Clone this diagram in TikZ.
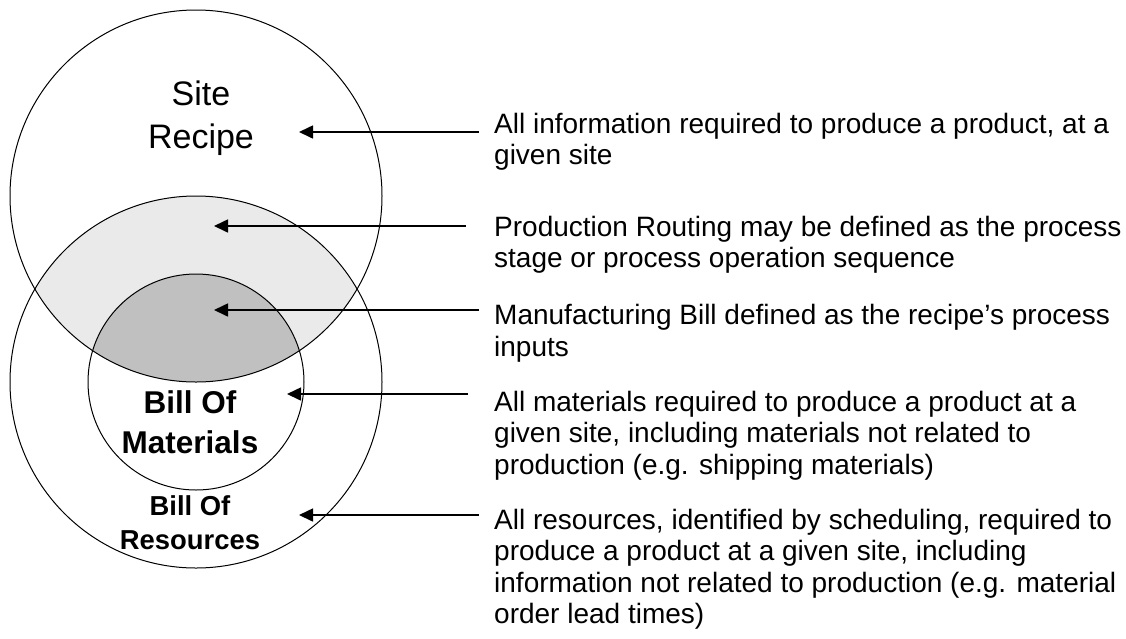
\documentclass[tikz,border=0pt]{standalone}
\usepackage{fontspec}
\setmainfont{Liberation Sans}
\usetikzlibrary{arrows.meta}
\definecolor{lensgray}{HTML}{EAEAEA}
\definecolor{coregray}{HTML}{C0C0C0}
\begin{document}
\begin{tikzpicture}[x=1pt,y=-1pt,
  outline/.style={draw=black,line width=1pt},
  pointer/.style={draw=black,line width=1.6pt,-{Triangle[length=14pt,width=13pt]}},
  desc/.style={anchor=base west,align=left,inner sep=0pt,font=\fontsize{28}{31.5}\selectfont},
  ]
\useasboundingbox[fill=white] (0,0) rectangle (1126,638);
% fills
\begin{scope}
  \clip (196,196) circle[radius=186];
  \fill[lensgray] (196,382) circle[radius=186];
  \fill[coregray] (196,382) circle[radius=108];
\end{scope}
% outlines
\draw[outline] (196,196) circle[radius=186];
\draw[outline] (196,382) circle[radius=186];
\draw[outline] (196,382) circle[radius=108];
% circle labels (anchor = baseline of last line)
\node (site) [anchor=base,align=center,inner sep=0pt,font=\fontsize{34}{43}\selectfont] at (201,148) {Site\\Recipe};
\node (bom) [anchor=base,align=center,inner sep=0pt,font=\fontsize{31.5}{39.5}\selectfont\bfseries] at (190,453) {Bill Of\\Materials};
\node (bor) [anchor=base,align=center,inner sep=0pt,font=\fontsize{27.4}{34}\selectfont\bfseries] at (190,549) {Bill Of\\Resources};
% descriptions (anchor = baseline of last line)
\node (d1) [desc] at (494,164.5) {All information required to produce a product, at a\\given site};
\node (d2) [desc] at (494,267.5) {Production Routing may be defined as the process\\stage or process operation sequence};
\node (d3) [desc] at (494,356) {Manufacturing Bill defined as the recipe’s process\\inputs};
\node (d4) [desc] at (494,474) {All materials required to produce a product at a\\given site, including materials not related to\\production (e.g. shipping materials)};
\node (d5) [desc] at (494,623.5) {All resources, identified by scheduling, required to\\produce a product at a given site, including\\information not related to production (e.g. material\\order lead times)};
% arrow ends
\coordinate (s1) at (479,132); \coordinate (t1) at (299,132);
\coordinate (s2) at (466,226); \coordinate (t2) at (214,226);
\coordinate (s3) at (479,310); \coordinate (t3) at (214,310);
\coordinate (s4) at (468,394); \coordinate (t4) at (287,394);
\coordinate (s5) at (479,515); \coordinate (t5) at (299,515);
\draw[pointer] (s1) -- (t1);
\draw[pointer] (s2) -- (t2);
\draw[pointer] (s3) -- (t3);
\draw[pointer] (s4) -- (t4);
\draw[pointer] (s5) -- (t5);
\end{tikzpicture}
\end{document}
